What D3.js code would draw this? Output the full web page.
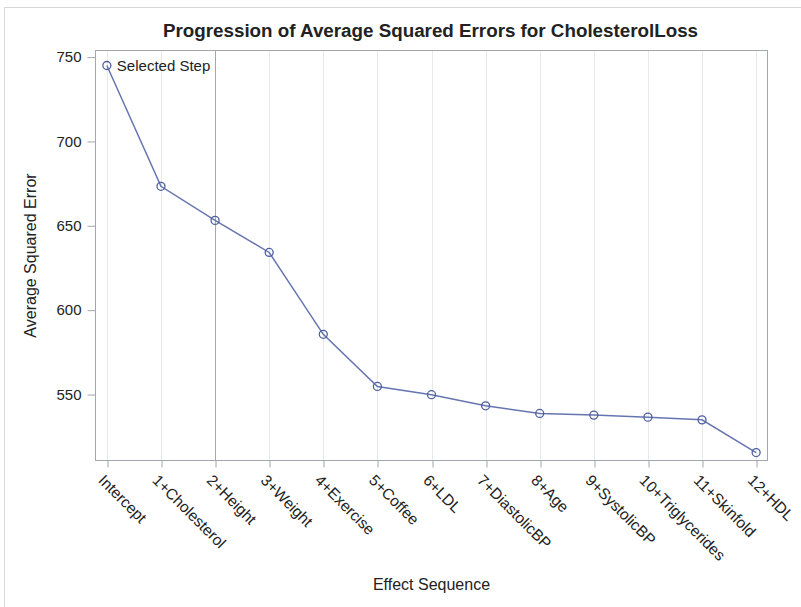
<!DOCTYPE html>
<html>
<head>
<meta charset="utf-8">
<script src="https://cdn.jsdelivr.net/npm/d3@7"></script>
<style>
  body { margin: 0; background: #fff; }
  text { font-family: "Liberation Sans", Arial, sans-serif; fill: #222; }
</style>
</head>
<body>
<div id="chart"></div>
<script>
// data
const steps = ["Intercept", "1+Cholesterol", "2+Height", "3+Weight", "4+Exercise", "5+Coffee",
  "6+LDL", "7+DiastolicBP", "8+Age", "9+SystolicBP", "10+Triglycerides", "11+Skinfold", "12+HDL"];
const ase = [745.0, 673.4, 653.2, 634.2, 585.7, 554.8, 549.9, 543.3, 538.8, 537.8, 536.6, 535.0, 515.6];
const yTicks = [550, 600, 650, 700, 750];
const selectedStep = "2+Height";

const W = 801, H = 607;
const plotL = 95.5, plotR = 767.5, plotT = 50.5, plotB = 460.5;

let svg = d3.select("#chart").append("svg")
    .attr("width", W)
    .attr("height", H);

// outer border
svg.append("rect")
    .attr("x", 4.5).attr("y", 7.5)
    .attr("width", 820).attr("height", 620)
    .attr("fill", "none").attr("stroke", "#d8d8d8");

let x = d3.scalePoint()
    .domain(steps)
    .range([plotL, plotR])
    .padding(0.21);

let y = d3.scaleLinear()
    .domain([510.9, 753.9])
    .range([plotB, plotT]);

// vertical grid
svg.append("g").selectAll("line")
    .data(steps)
    .join("line")
    .attr("x1", d => Math.round(x(d)) + 0.5)
    .attr("x2", d => Math.round(x(d)) + 0.5)
    .attr("y1", plotT).attr("y2", plotB)
    .attr("stroke", "#e8e8e8");

// selected step reference line
svg.append("line")
    .attr("x1", Math.round(x(selectedStep)) + 0.5)
    .attr("x2", Math.round(x(selectedStep)) + 0.5)
    .attr("y1", plotT).attr("y2", plotB)
    .attr("stroke", "#a8a8a8");

// frame
svg.append("rect")
    .attr("x", plotL).attr("y", plotT)
    .attr("width", plotR - plotL).attr("height", plotB - plotT)
    .attr("fill", "none").attr("stroke", "#a3a6ab");

// y axis
let yAxis = svg.append("g")
    .attr("transform", `translate(${plotL},0)`)
    .call(d3.axisLeft(y).tickValues(yTicks).tickSize(8).tickPadding(6).tickFormat(d3.format("d")));
yAxis.select(".domain").remove();
yAxis.selectAll("line").attr("stroke", "#a3a6ab");
yAxis.selectAll("text")
    .style("font-size", "15px")
    .attr("fill", "#222");

// x axis
let xAxis = svg.append("g")
    .attr("transform", `translate(0,${plotB})`)
    .call(d3.axisBottom(x).tickSize(7).tickSizeOuter(0));
xAxis.select(".domain").remove();
xAxis.selectAll(".tick line")
    .attr("transform", d => `translate(${Math.round(x(d)) + 0.5 - x(d)},0)`)
    .attr("stroke", "#a3a6ab");
xAxis.selectAll("text")
    .style("font-size", "15.5px")
    .attr("fill", "#222")
    .attr("text-anchor", "start")
    .attr("y", 0).attr("dy", "0.35em")
    .attr("transform", "translate(-6,17) rotate(45)");

// line + markers
let line = d3.line()
    .x((d, i) => x(steps[i]))
    .y(d => y(d));

svg.append("path")
    .datum(ase)
    .attr("d", line)
    .attr("fill", "none")
    .attr("stroke", "#6675b0")
    .attr("stroke-width", 1.5);

svg.append("g").selectAll("circle")
    .data(ase)
    .join("circle")
    .attr("cx", (d, i) => x(steps[i]))
    .attr("cy", d => y(d))
    .attr("r", 4)
    .attr("fill", "none")
    .attr("stroke", "#4f5f9f")
    .attr("stroke-width", 1.3);

// selected step label
svg.append("text")
    .attr("x", x(steps[0]) + 10)
    .attr("y", y(ase[0]) + 5)
    .style("font-size", "15px")
    .text("Selected Step");

// title
svg.append("text")
    .attr("x", 430.5)
    .attr("y", 37)
    .attr("text-anchor", "middle")
    .style("font-size", "18.8px")
    .style("font-weight", "bold")
    .attr("fill", "#000")
    .text("Progression of Average Squared Errors for CholesterolLoss");

// axis labels
svg.append("text")
    .attr("x", (plotL + plotR) / 2)
    .attr("y", 590)
    .attr("text-anchor", "middle")
    .style("font-size", "16px")
    .text("Effect Sequence");

svg.append("text")
    .attr("transform", `translate(36,${(plotT + plotB) / 2}) rotate(-90)`)
    .attr("text-anchor", "middle")
    .style("font-size", "16px")
    .text("Average Squared Error");
</script>
</body>
</html>
